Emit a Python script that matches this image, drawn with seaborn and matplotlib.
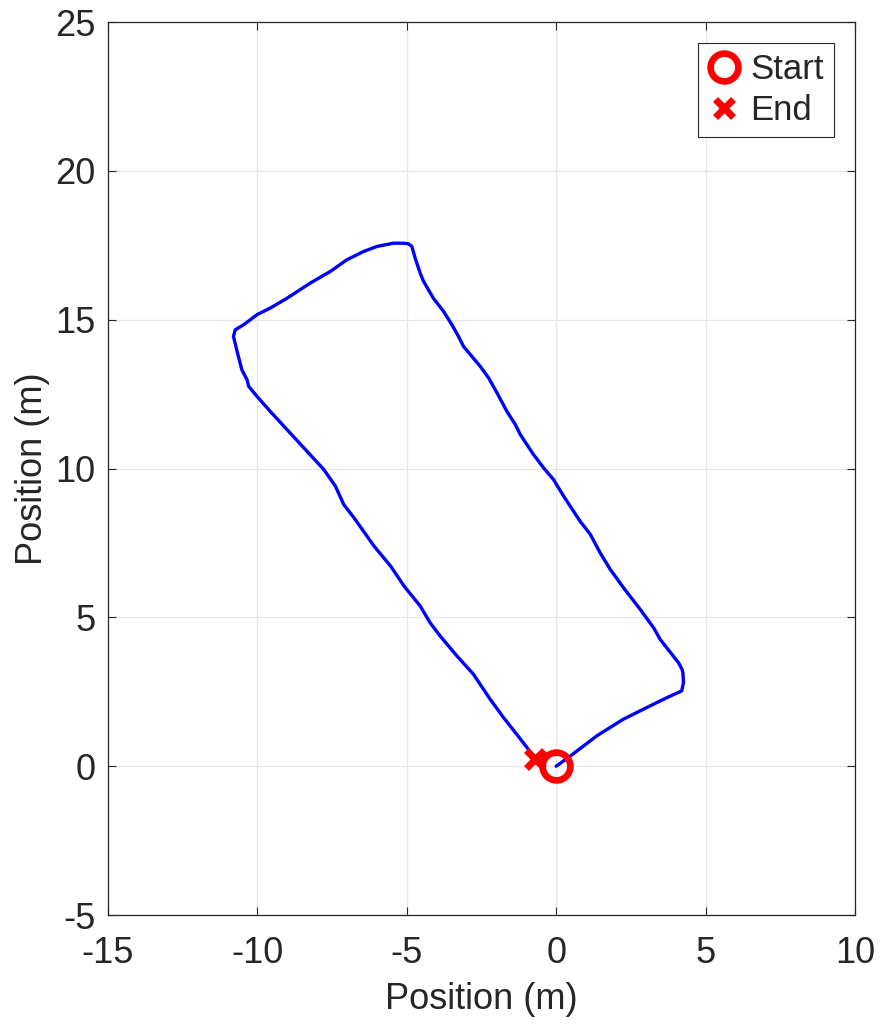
import matplotlib
matplotlib.use("Agg")
import matplotlib.pyplot as plt
import seaborn as sns
import pandas as pd

# Walked trajectory (metres), from the start point round the loop to the end point
x_path = [0.0, 0.47, 1.36, 2.25, 3.03, 3.70, 4.20, 4.26, 4.24, 4.21, 4.09, 3.87,
          3.48, 3.26, 2.81, 2.25, 1.81, 1.47, 1.14, 0.80, 0.25, -0.09, -0.42,
          -0.76, -1.20, -1.37, -1.65, -1.98, -2.26, -2.54, -3.10, -3.27, -3.49,
          -3.77, -4.11, -4.44, -4.55, -4.72, -4.83, -4.94, -5.11, -5.45, -6.00,
          -6.45, -7.01, -7.56, -8.23, -9.01, -9.57, -10.01, -10.46, -10.74,
          -10.80, -10.68, -10.52, -10.35, -10.29, -10.01, -9.57, -8.90, -8.34,
          -7.78, -7.39, -7.11, -6.77, -6.10, -5.54, -5.09, -4.55, -4.22, -3.88,
          -3.32, -2.77, -2.21, -1.76, -1.32, -0.98, -0.70]
y_path = [0.0, 0.34, 1.02, 1.58, 1.97, 2.30, 2.53, 2.81, 3.14, 3.26, 3.48, 3.76,
          4.26, 4.65, 5.27, 6.00, 6.61, 7.17, 7.79, 8.23, 9.07, 9.63, 10.02,
          10.47, 11.14, 11.48, 11.92, 12.54, 13.04, 13.43, 14.10, 14.44, 14.83,
          15.28, 15.72, 16.29, 16.56, 17.07, 17.46, 17.55, 17.57, 17.57, 17.46,
          17.29, 17.01, 16.62, 16.23, 15.72, 15.39, 15.17, 14.83, 14.66, 14.44,
          13.94, 13.32, 12.99, 12.76, 12.42, 11.92, 11.19, 10.58, 9.97, 9.41,
          8.79, 8.35, 7.40, 6.72, 6.05, 5.38, 4.82, 4.37, 3.70, 3.09, 2.25,
          1.63, 1.07, 0.63, 0.25]

start_xy = (0.0, 0.0)
end_xy = (-0.70, 0.25)

x_ticks = [-15, -10, -5, 0, 5, 10]
y_ticks = [-5, 0, 5, 10, 15, 20, 25]

sns.set_style("whitegrid")
plt.rcParams["font.family"] = ["Liberation Sans", "DejaVu Sans"]

FS = 26
fig = plt.figure(figsize=(8.82, 10.25), dpi=100)
ax = fig.add_axes([0.1224, 0.1073, 0.8470, 0.8712])

df = pd.DataFrame({"x": x_path, "y": y_path})
sns.lineplot(data=df, x="x", y="y", sort=False, estimator=None,
             color="#0000FF", linewidth=2.4, ax=ax)

ax.plot([start_xy[0]], [start_xy[1]], linestyle="none", marker="o",
        markersize=20, markerfacecolor="none", markeredgecolor="#FF0000",
        markeredgewidth=4.8, label="Start", zorder=5)
ax.plot([end_xy[0]], [end_xy[1]], linestyle="none", marker="x",
        markersize=13, markeredgecolor="#FF0000", markeredgewidth=5,
        label="End", zorder=5)

ax.set_xlim(-15, 10)
ax.set_ylim(-5, 25)
ax.set_xticks(x_ticks)
ax.set_yticks(y_ticks)
ax.set_xticklabels([str(t) for t in x_ticks])
ax.set_yticklabels([str(t) for t in y_ticks])
ax.set_xlabel("Position (m)", fontsize=FS, color="#262626", labelpad=8)
ax.set_ylabel("Position (m)", fontsize=FS, color="#262626", labelpad=4)

ax.grid(True, color="#E6E6E6", linewidth=0.9)
ax.tick_params(axis="both", direction="in", length=6, width=0.8,
               colors="#262626", labelsize=FS)
ax.tick_params(axis="x", top=True, bottom=True, labeltop=False, pad=15)
ax.tick_params(axis="y", left=True, right=True, labelright=False, pad=9)
for side in ax.spines.values():
    side.set_visible(True)
    side.set_color("#262626")
    side.set_linewidth(0.9)

leg = ax.legend(loc="upper right", fontsize=25, frameon=True, fancybox=False,
                borderpad=0.3, handlelength=0.9, handletextpad=0.3,
                labelspacing=0.22, borderaxespad=0.6,
                markerscale=1.0)
leg.get_frame().set_edgecolor("#262626")
leg.get_frame().set_linewidth(0.8)
leg.get_frame().set_alpha(1.0)

fig.savefig("out.png", dpi=100)
